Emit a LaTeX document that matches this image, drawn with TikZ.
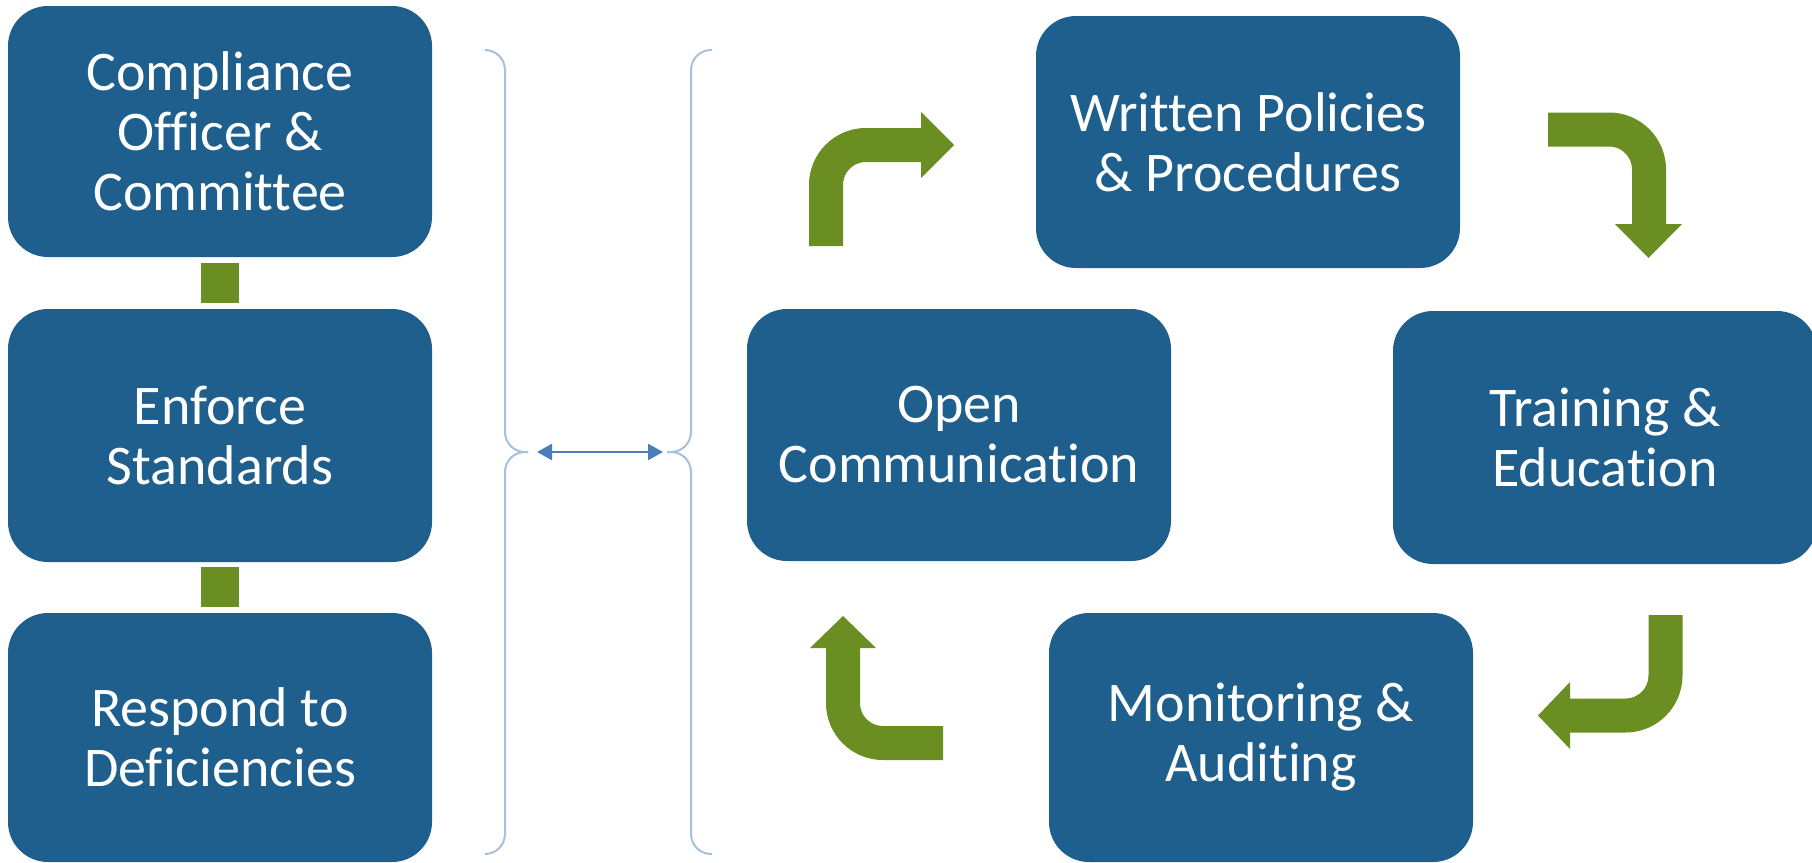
\documentclass[tikz,border=0pt]{standalone}
\usepackage{fontspec}
\setmainfont[Ligatures=NoCommon]{Carlito}
\usetikzlibrary{arrows.meta}
\definecolor{boxblue}{RGB}{31,95,142}
\definecolor{arrgreen}{RGB}{107,142,35}
\definecolor{bracecol}{RGB}{167,192,220}
\definecolor{dblue}{RGB}{74,126,187}
\begin{document}
\begin{tikzpicture}[x=0.5pt,y=-0.5pt,
  box/.style={fill=boxblue, rounded corners=20pt, inner sep=0pt, minimum width=212pt,
              text=white, align=center, font=\fontsize{28}{30}\selectfont},
  bandarrow/.style={draw=arrgreen, line width=17pt, rounded corners=20pt},
  headtri/.style={fill=arrgreen},
  brace/.style={draw=bracecol, line width=1pt, rounded corners=10pt},
  linksq/.style={fill=arrgreen, inner sep=0pt, minimum width=19pt, minimum height=20pt}]
\useasboundingbox (0,0) rectangle (1812,863);
\clip (0,0) rectangle (1812,863);

% left column
\node[box, minimum height=125.5pt] (c1) at (220,131.5) {Compliance\\Officer \&\\Committee};
\node[box, minimum height=126.5pt] (c2) at (220,435.5) {Enforce\\Standards};
\node[box, minimum height=124.5pt] (c3) at (220,737.5) {Respond to\\Deficiencies};
\node[linksq] (l1) at (220,283) {};
\node[linksq] (l2) at (220,586.5) {};

% braces
\coordinate (lb) at (528,452);
\coordinate (rb) at (667,452);
\draw[brace] (485,50) -- (505,50) -- (505,452) -- (lb);
\draw[brace] (lb) -- (505,452) -- (505,854) -- (485,854);
\draw[brace] (712,50) -- (691,50) -- (691,452) -- (rb);
\draw[brace] (rb) -- (691,452) -- (691,854) -- (712,854);
\coordinate (a1) at (537,452);
\coordinate (a2) at (663,452);
\draw[dblue, line width=1.2pt, {Triangle[length=7.5pt,width=8pt]}-{Triangle[length=7.5pt,width=8pt]}] (a1) -- (a2);

% cycle
\node[box, minimum height=126pt] (w) at (1248,142) {Written Policies\\\& Procedures};
\node[box, minimum height=126pt] (o) at (959,435) {Open\\Communication};
\node[box, minimum height=126.5pt] (t) at (1605,437.5) {Training \&\\Education};
\node[box, minimum height=124.5pt] (m) at (1261,737.5) {Monitoring \&\\Auditing};

% bent arrows
\draw[bandarrow] (826,246) -- (826,145) -- (922,145);
\fill[headtri] (921,112) -- (954,145) -- (921,178) -- cycle;

\draw[bandarrow] (1548,129.5) -- (1649,129.5) -- (1649,225);
\fill[headtri] (1615,224) -- (1682,224) -- (1648.5,258) -- cycle;

\draw[bandarrow] (1665.5,615) -- (1665.5,715.5) -- (1569,715.5);
\fill[headtri] (1570,682) -- (1570,749) -- (1538,715.5) -- cycle;

\draw[bandarrow] (943,743) -- (843,743) -- (843,647);
\fill[headtri] (810,648) -- (876,648) -- (843,616) -- cycle;
\end{tikzpicture}
\end{document}
